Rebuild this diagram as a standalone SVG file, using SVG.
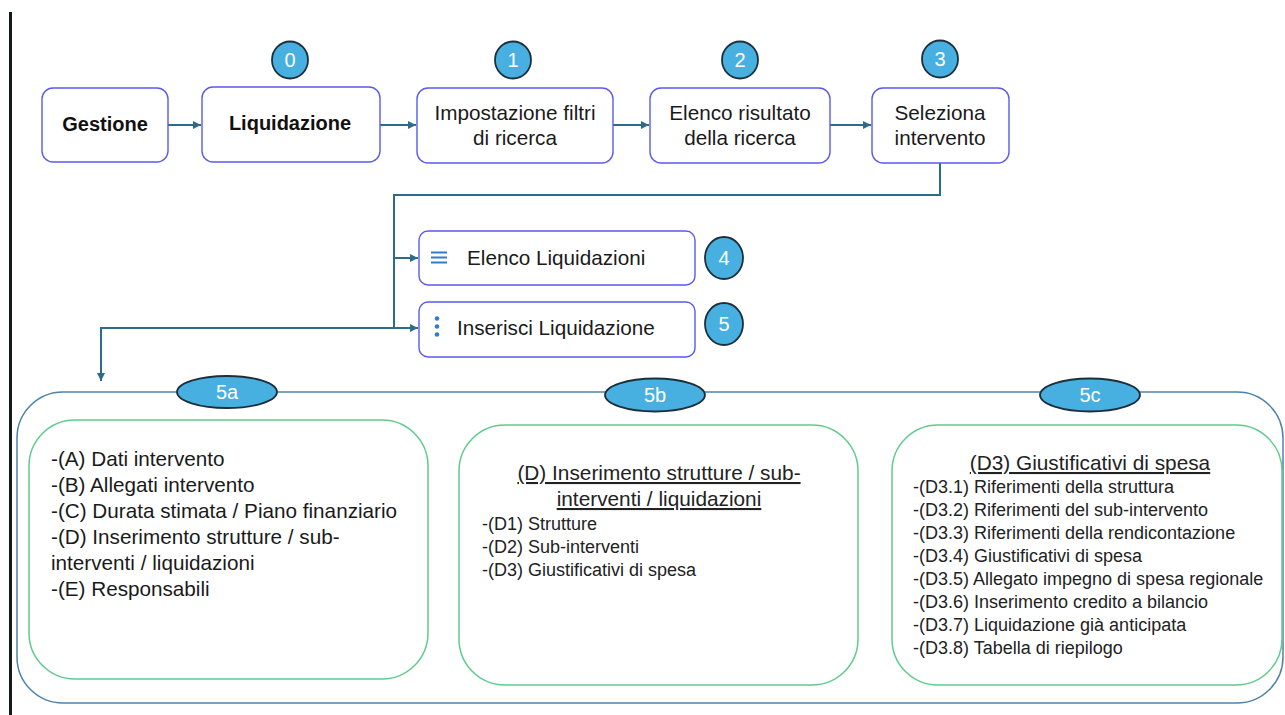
<svg xmlns="http://www.w3.org/2000/svg" width="1285" height="715" viewBox="0 0 1285 715">
  <style>
    .box { fill: #ffffff; stroke: #5a5af0; stroke-width: 1.4; }
    .panel { fill: #ffffff; stroke: #5fcb8c; stroke-width: 1.5; }
    .frame { fill: #ffffff; stroke: #4f82a8; stroke-width: 1.5; }
    .badge { fill: #47b0e0; stroke: #1c2f3c; stroke-width: 1.8; }
    .badge-t { font-family: "Liberation Sans", Arial, sans-serif; font-size: 20px; fill: #ffffff; text-anchor: middle; }
    .t { font-family: "Liberation Sans", Arial, sans-serif; font-size: 20.7px; fill: #1a1a1a; }
    .tb { font-family: "Liberation Sans", Arial, sans-serif; font-size: 20px; font-weight: bold; fill: #111111; text-anchor: middle; }
    .tc { text-anchor: middle; }
    .item { font-family: "Liberation Sans", Arial, sans-serif; font-size: 18px; fill: #222222; }
    .title { font-family: "Liberation Sans", Arial, sans-serif; font-size: 20.8px; fill: #222222; text-anchor: middle; text-decoration: underline; }
    .conn { fill: none; stroke: #2c6b8b; stroke-width: 2; }
    .icon { fill: #2f7fc8; }
  </style>
  <defs>
    <marker id="arrow" markerUnits="userSpaceOnUse" markerWidth="9" markerHeight="9" refX="8" refY="4" orient="auto">
      <path d="M0,0 L8,4 L0,8 Z" fill="#2c6b8b"/>
    </marker>
  </defs>

  <rect width="1285" height="715" fill="#ffffff"/>
  <!-- left margin rule -->
  <rect x="9" y="12" width="3" height="703" fill="#141a1a"/>

  <!-- connectors -->
  <g id="connectors">
    <path class="conn" d="M168,125 H201" marker-end="url(#arrow)"/>
    <path class="conn" d="M380,125 H416" marker-end="url(#arrow)"/>
    <path class="conn" d="M613,125 H649" marker-end="url(#arrow)"/>
    <path class="conn" d="M830,125 H871" marker-end="url(#arrow)"/>
    <path class="conn" d="M940,163 V195 H394 V328"/>
    <path class="conn" d="M394,258 H418" marker-end="url(#arrow)"/>
    <path class="conn" d="M394,328 H418" marker-end="url(#arrow)"/>
    <path class="conn" d="M394,328 H101 V381" marker-end="url(#arrow)"/>
  </g>

  <!-- top row -->
  <g id="gestione">
    <rect class="box" x="42" y="88" width="126" height="74" rx="11"/>
    <text class="tb" x="105" y="131">Gestione</text>
  </g>
  <g id="liquidazione">
    <rect class="box" x="202" y="87" width="178" height="75" rx="11"/>
    <text class="tb" x="290" y="130">Liquidazione</text>
    <ellipse class="badge" cx="290" cy="60" rx="18" ry="18.5"/>
    <text class="badge-t" x="290" y="67">0</text>
  </g>
  <g id="impostazione">
    <rect class="box" x="417" y="88" width="196" height="75" rx="11"/>
    <text class="t tc" x="515" y="120">Impostazione filtri</text>
    <text class="t tc" x="515" y="145">di ricerca</text>
    <ellipse class="badge" cx="513" cy="60" rx="18" ry="18.5"/>
    <text class="badge-t" x="513" y="67">1</text>
  </g>
  <g id="elenco-risultato">
    <rect class="box" x="650" y="88" width="180" height="75" rx="11"/>
    <text class="t tc" x="740" y="120">Elenco risultato</text>
    <text class="t tc" x="740" y="145">della ricerca</text>
    <ellipse class="badge" cx="740" cy="60" rx="18" ry="18.5"/>
    <text class="badge-t" x="740" y="67">2</text>
  </g>
  <g id="seleziona">
    <rect class="box" x="872" y="88" width="137" height="75" rx="11"/>
    <text class="t tc" x="940" y="120">Seleziona</text>
    <text class="t tc" x="940" y="145">intervento</text>
    <ellipse class="badge" cx="940" cy="59" rx="18" ry="18.5"/>
    <text class="badge-t" x="940" y="66">3</text>
  </g>

  <!-- menu entries -->
  <g id="elenco-liquidazioni">
    <rect class="box" x="419" y="231" width="276" height="54" rx="9"/>
    <rect class="icon" x="431" y="251.5" width="16" height="2"/>
    <rect class="icon" x="431" y="256.5" width="16" height="2"/>
    <rect class="icon" x="431" y="261.5" width="16" height="2"/>
    <text class="t" x="467" y="265">Elenco Liquidazioni</text>
    <ellipse class="badge" cx="724" cy="258" rx="19" ry="21"/>
    <text class="badge-t" x="724" y="265">4</text>
  </g>
  <g id="inserisci-liquidazione">
    <rect class="box" x="419" y="302" width="276" height="55" rx="9"/>
    <circle class="icon" cx="437" cy="318.5" r="2.3"/>
    <circle class="icon" cx="437" cy="326.5" r="2.3"/>
    <circle class="icon" cx="437" cy="334.5" r="2.3"/>
    <text class="t" x="457" y="335">Inserisci Liquidazione</text>
    <ellipse class="badge" cx="724" cy="324" rx="19" ry="21"/>
    <text class="badge-t" x="724" y="331">5</text>
  </g>

  <!-- insertion sections -->
  <g id="sezioni">
    <rect class="frame" x="17" y="392" width="1266" height="311" rx="46"/>
  </g>

  <g id="sezione-5a">
    <rect class="panel" x="29" y="420" width="399" height="259" rx="46"/>
    <text class="t" x="51" y="466">-(A) Dati intervento</text>
    <text class="t" x="51" y="492">-(B) Allegati intervento</text>
    <text class="t" x="51" y="518">-(C) Durata stimata / Piano finanziario</text>
    <text class="t" x="51" y="544">-(D) Inserimento strutture / sub-</text>
    <text class="t" x="51" y="570">interventi / liquidazioni</text>
    <text class="t" x="51" y="596">-(E) Responsabili</text>
    <ellipse class="badge" cx="227" cy="392" rx="50" ry="16"/>
    <text class="badge-t" x="227" y="399">5a</text>
  </g>

  <g id="sezione-5b">
    <rect class="panel" x="459" y="425" width="399" height="260" rx="46"/>
    <text class="title" x="659" y="480">(D) Inserimento strutture / sub-</text>
    <text class="title" x="659" y="506">interventi / liquidazioni</text>
    <text class="item" x="482" y="530">-(D1) Strutture</text>
    <text class="item" x="482" y="553">-(D2) Sub-interventi</text>
    <text class="item" x="482" y="576">-(D3) Giustificativi di spesa</text>
    <ellipse class="badge" cx="655" cy="395" rx="50" ry="16.5"/>
    <text class="badge-t" x="655" y="402">5b</text>
  </g>

  <g id="sezione-5c">
    <rect class="panel" x="892" y="425" width="390" height="260" rx="46"/>
    <text class="title" x="1090" y="470">(D3) Giustificativi di spesa</text>
    <text class="item" x="913" y="493">-(D3.1) Riferimenti della struttura</text>
    <text class="item" x="913" y="516">-(D3.2) Riferimenti del sub-intervento</text>
    <text class="item" x="913" y="539">-(D3.3) Riferimenti della rendicontazione</text>
    <text class="item" x="913" y="562">-(D3.4) Giustificativi di spesa</text>
    <text class="item" x="913" y="585">-(D3.5) Allegato impegno di spesa regionale</text>
    <text class="item" x="913" y="608">-(D3.6) Inserimento credito a bilancio</text>
    <text class="item" x="913" y="631">-(D3.7) Liquidazione già anticipata</text>
    <text class="item" x="913" y="654">-(D3.8) Tabella di riepilogo</text>
    <ellipse class="badge" cx="1090" cy="395" rx="50" ry="16.5"/>
    <text class="badge-t" x="1090" y="402">5c</text>
  </g>
</svg>
